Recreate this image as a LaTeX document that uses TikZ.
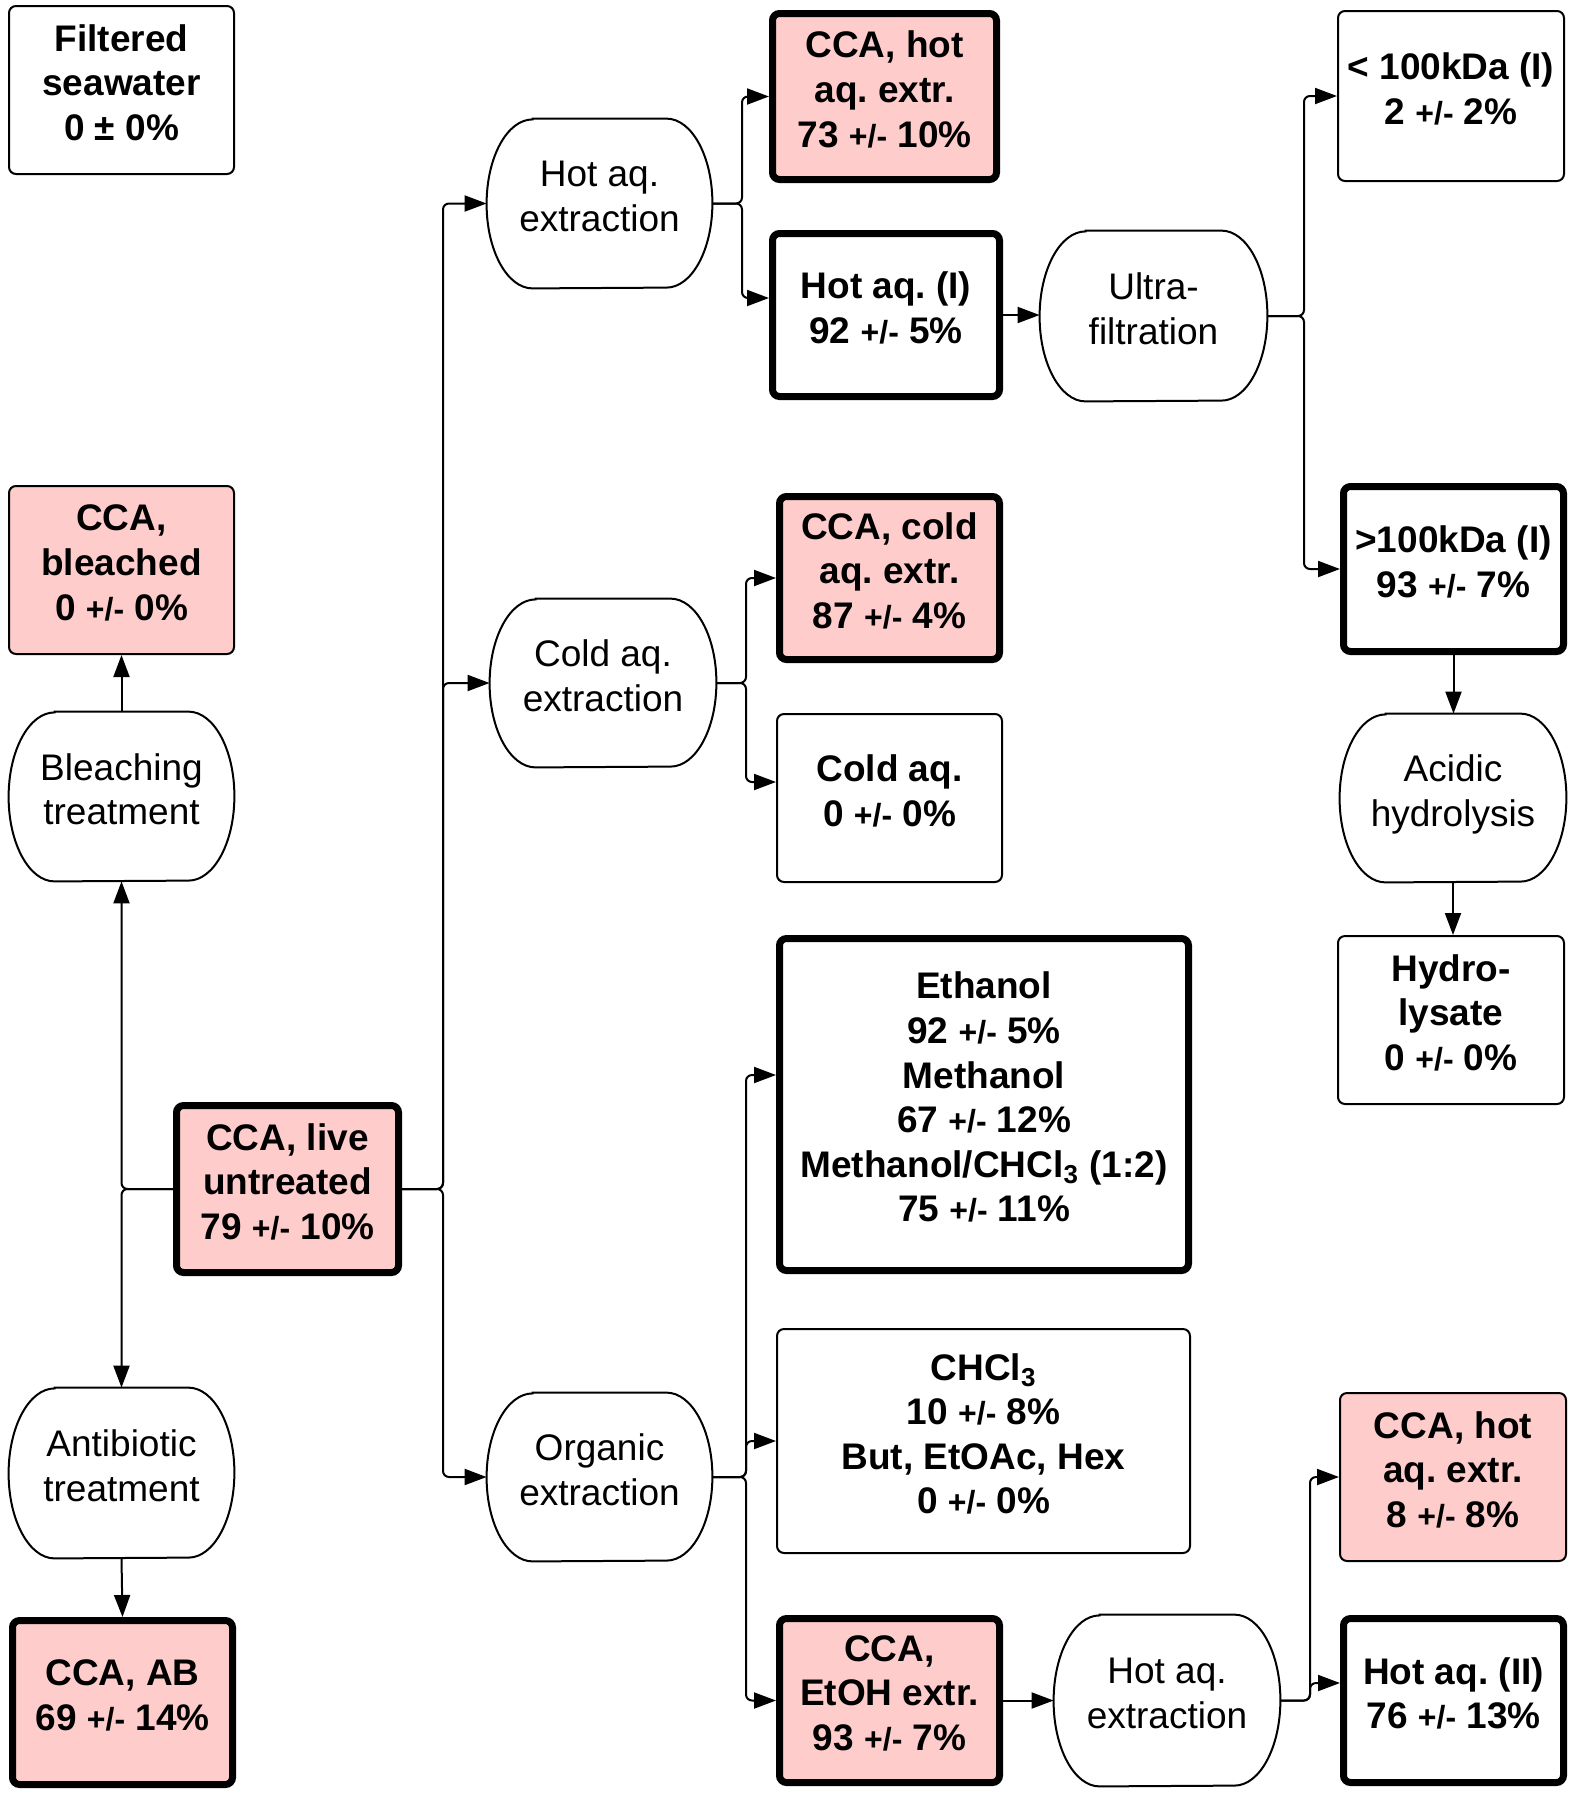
\documentclass[tikz,border=0pt]{standalone}
\usepackage{fontspec}
\setmainfont{Liberation Sans}
\usetikzlibrary{arrows.meta,calc}
\definecolor{pinkfill}{RGB}{255,204,204}
\newcommand\pmx{{\fontsize{16}{16}\selectfont +/-}}
\newcommand\procoutline[2]{%
  \draw[procline] ([xshift=23pt]#1.north west) -- ([xshift=-23pt]#1.north east)
    arc[start angle=90, end angle=-90, x radius=23pt, y radius=#2]
    -- ([xshift=23pt]#1.south west)
    arc[start angle=270, end angle=90, x radius=23pt, y radius=#2] -- cycle;}
\tikzset{
  base/.style={rectangle, rounded corners=3.5pt, align=center, inner sep=0pt,
    text depth=7.5pt, font={\frenchspacing\bfseries\fontsize{18.5}{22.3}\selectfont}},
  thinbox/.style={base, draw, line width=1pt},
  thickbox/.style={base, draw, line width=3.5pt},
  pinked/.style={fill=pinkfill},
  proc/.style={rectangle, align=center, inner sep=0pt, text depth=7.5pt,
    font={\frenchspacing\fontsize{18.5}{22.3}\selectfont}},
  procline/.style={draw, line width=1pt},
  conn/.style={line width=1pt, rounded corners=3pt, -{Triangle[length=11pt,width=8pt]}},
}
\begin{document}
\begin{tikzpicture}[x=0.5pt,y=-0.5pt]
\useasboundingbox[fill=white] (0,0) rectangle (1575,1796);

% left column
\node[thinbox, minimum width=112.5pt, minimum height=84pt] (fsw) at (121.5,90) {Filtered\\seawater\\0 ± 0\%};
\node[thinbox, pinked, minimum width=112.5pt, minimum height=84pt] (bleached) at (121.5,570) {CCA,\\bleached\\0 \pmx{} 0\%};
\node[proc, minimum width=112.5pt, minimum height=84.5pt] (bleachT) at (121.5,796.5) {Bleaching\\treatment};
\node[thickbox, pinked, minimum width=111pt, minimum height=83.5pt] (live) at (287.5,1189) {CCA, live\\untreated\\79 \pmx{} 10\%};
\node[proc, minimum width=112.5pt, minimum height=85pt] (antiT) at (121.5,1473) {Antibiotic\\treatment};
\node[thickbox, pinked, minimum width=110pt, minimum height=82pt] (ab) at (122.5,1702.5) {CCA, AB\\69 \pmx{} 14\%};

% process column 2
\node[proc, minimum width=112.5pt, minimum height=84.5pt] (hotE) at (599.5,203.5) {Hot aq.\\extraction};
\node[proc, minimum width=113pt, minimum height=84pt] (coldE) at (603,683) {Cold aq.\\extraction};
\node[proc, minimum width=112.5pt, minimum height=84pt] (orgE) at (599.5,1477) {Organic\\extraction};

% column 3
\node[thickbox, pinked, minimum width=112pt, minimum height=83pt] (ccahot) at (884.5,96.5) {CCA, hot\\aq. extr.\\73 \pmx{} 10\%};
\node[thickbox, minimum width=113.5pt, minimum height=81.5pt] (hotI) at (886,315) {Hot aq. (I)\\92 \pmx{} 5\%};
\node[thickbox, pinked, minimum width=110pt, minimum height=81.5pt] (ccacold) at (889.5,578) {CCA, cold\\aq. extr.\\87 \pmx{} 4\%};
\node[thinbox, minimum width=112.5pt, minimum height=84pt] (coldaq) at (889.5,798) {Cold aq.\\0 \pmx{} 0\%};
\node[thickbox, minimum width=204.5pt, minimum height=166pt] (eth) at (984,1104.5) {Ethanol\\92 \pmx{} 5\%\\Methanol\\67 \pmx{} 12\%\\Methanol/CHCl\textsubscript{3} (1:2)\\75 \pmx{} 11\%};
\node[thinbox, minimum width=206.5pt, minimum height=112pt] (chcl) at (983.5,1441) {CHCl\textsubscript{3}\\10 \pmx{} 8\%\\But, EtOAc, Hex\\0 \pmx{} 0\%};
\node[thickbox, pinked, minimum width=110pt, minimum height=82pt] (etoh) at (889.5,1700.5) {CCA,\\EtOH extr.\\93 \pmx{} 7\%};

% column 4
\node[proc, minimum width=113.5pt, minimum height=85pt] (ultra) at (1153.5,316) {Ultra-\\filtration};
\node[proc, minimum width=113pt, minimum height=85.5pt] (hotE2) at (1167,1700.5) {Hot aq.\\extraction};

% column 5
\node[thinbox, minimum width=113pt, minimum height=85pt] (lt100) at (1451,96) {< 100kDa (I)\\2 \pmx{} 2\%};
\node[thickbox, minimum width=110pt, minimum height=82.5pt] (gt100) at (1453.5,569) {>100kDa (I)\\93 \pmx{} 7\%};
\node[proc, minimum width=113pt, minimum height=84pt] (acid) at (1453,798) {Acidic\\hydrolysis};
\node[thinbox, minimum width=113pt, minimum height=84pt] (hydro) at (1451,1020) {Hydro-\\lysate\\0 \pmx{} 0\%};
\node[thinbox, pinked, minimum width=113pt, minimum height=84pt] (ccahot8) at (1453,1477) {CCA, hot\\aq. extr.\\8 \pmx{} 8\%};
\node[thickbox, minimum width=110pt, minimum height=82pt] (hotII) at (1453.5,1700.5) {Hot aq. (II)\\76 \pmx{} 13\%};

% process outlines
\procoutline{bleachT}{42.25pt}
\procoutline{antiT}{42.5pt}
\procoutline{hotE}{42.25pt}
\procoutline{coldE}{42pt}
\procoutline{orgE}{42pt}
\procoutline{ultra}{42.5pt}
\procoutline{hotE2}{42.75pt}
\procoutline{acid}{42pt}

% junction columns
\coordinate (jR) at (443,0);
\coordinate (jH) at (742,0);
\coordinate (jC) at (746,0);
\coordinate (jO) at (746,0);
\coordinate (jU) at (1304,0);
\coordinate (jE) at (1310,0);

% connectors
\draw[conn] (live.west) -| (bleachT.south);
\draw[conn] (live.west) -| (antiT.north);
\draw[conn] (bleachT.north) -- (bleached.south);
\draw[conn] (antiT.south) -- (ab.north);

\draw[conn] (live.east) -- (live.east -| jR) |- (hotE.west);
\draw[conn] (live.east) -- (live.east -| jR) |- (coldE.west);
\draw[conn] (live.east) -- (live.east -| jR) |- (orgE.west);

\draw[conn] (hotE.east) -- (hotE.east -| jH) |- (ccahot.west);
\draw[conn] (hotE.east) -- (hotE.east -| jH) |- ([yshift=8.5pt]hotI.west);
\draw[conn] (coldE.east) -- (coldE.east -| jC) |- (ccacold.west);
\draw[conn] (coldE.east) -- (coldE.east -| jC) |- ([yshift=8pt]coldaq.west);
\draw[conn] (orgE.east) -- (orgE.east -| jO) |- ([yshift=14.75pt]eth.west);
\draw[conn] (orgE.east) -- (orgE.east -| jO) |- (chcl.west);
\draw[conn] (orgE.east) -- (orgE.east -| jO) |- (etoh.west);

\draw[conn] (hotI.east) -- (hotI.east -| ultra.west);
\draw[conn] (etoh.east) -- (etoh.east -| hotE2.west);

\draw[conn] (ultra.east) -- (ultra.east -| jU) |- (lt100.west);
\draw[conn] (ultra.east) -- (ultra.east -| jU) |- (gt100.west);
\draw[conn] (gt100.south) -- (gt100.south |- acid.north);
\draw[conn] (acid.south) -- (acid.south |- hydro.north);

\draw[conn] (hotE2.east) -- (hotE2.east -| jE) |- (ccahot8.west);
\draw[conn] (hotE2.east) -- (hotE2.east -| jE) |- ([yshift=8.75pt]hotII.west);
\end{tikzpicture}
\end{document}
